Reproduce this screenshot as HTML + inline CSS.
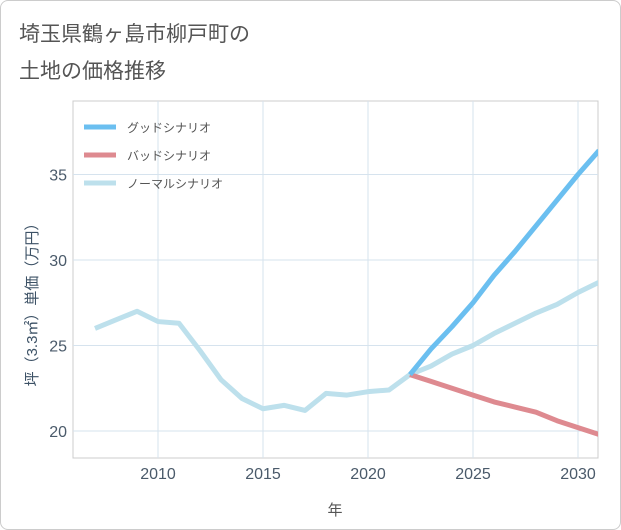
<!DOCTYPE html>
<html><head><meta charset="utf-8"><style>
body{margin:0;background:#fff;font-family:"Liberation Sans","Noto Sans CJK JP",sans-serif;}
#wrap{position:relative;width:619px;height:528px;border:1px solid #ccc;border-radius:8px;overflow:hidden;}
</style></head><body>
<div id="wrap">
<svg id="chart" width="621" height="530"></svg>
</div>
<script>
const years=[2007,2008,2009,2010,2011,2012,2013,2014,2015,2016,2017,2018,2019,2020,2021,2022,2023,2024,2025,2026,2027,2028,2029,2030,2031];
const normal=[26.0,26.5,27.0,26.4,26.3,24.7,23.0,21.9,21.3,21.5,21.2,22.2,22.1,22.3,22.4,23.3,23.8,24.5,25.0,25.7,26.3,26.9,27.4,28.1,28.7];
const fYears=[2022,2023,2024,2025,2026,2027,2028,2029,2030,2031];
const good=[23.3,24.8,26.1,27.5,29.1,30.5,32.0,33.5,35.0,36.4];
const bad=[23.3,22.9,22.5,22.1,21.7,21.4,21.1,20.6,20.2,19.8];
const xTicks=[2010,2015,2020,2025,2030];
const yTicks=[20,25,30,35];
const NS="http://www.w3.org/2000/svg";
const svg=document.getElementById('chart');
const L=72,R=597,T=100,B=457;
const x=v=>157+(v-2010)*21;
const y=v=>430-(v-20)*17.1;
function mk(tag,attrs,parent){const e=document.createElementNS(NS,tag);for(const k in attrs)e.setAttribute(k,attrs[k]);(parent||svg).appendChild(e);return e;}
const title=mk('text',{x:18,y:40,'font-size':21,fill:'#555'});


title.textContent='埼玉県鶴ヶ島市柳戸町の';
const t2=mk('text',{x:18,y:77,'font-size':21,fill:'#555'});


t2.textContent='土地の価格推移';
const bg=mk('rect',{x:L,y:T,width:R-L,height:B-T,fill:'#fff',stroke:'#ccc'});


xTicks.forEach(v=>{
 const g=mk('line',{x1:x(v),x2:x(v),y1:T,y2:B,stroke:'#d6e3ee'});
 
 
 const t=mk('text',{x:x(v),y:478,'font-size':16,fill:'#4a5a6a','text-anchor':'middle'});
 
 
 t.textContent=v;
});
yTicks.forEach(v=>{
 const g=mk('line',{x1:L,x2:R,y1:y(v),y2:y(v),stroke:'#d6e3ee'});
 
 
 const t=mk('text',{x:66,y:y(v)+6,'font-size':16,fill:'#4a5a6a','text-anchor':'end'});
 
 
 t.textContent=v;
});
const xt=mk('text',{x:334,y:514,'font-size':15,fill:'#555','text-anchor':'middle'});


xt.textContent='年';
const yt=mk('text',{x:0,y:0,'font-size':15,fill:'#3d5266','text-anchor':'middle',transform:'translate(36,300) rotate(-90)'});


yt.textContent='坪（3.3㎡）単価（万円）';
const clip=mk('clipPath',{id:'c'});
mk('rect',{x:L,y:T,width:R-L,height:B-T},clip);
function line(xs,vs,color,name){
 const p=mk('path',{d:xs.map((v,i)=>(i?'L':'M')+x(v)+','+y(vs[i])).join(''),fill:'none',stroke:color,'stroke-width':5,'stroke-linejoin':'round','clip-path':'url(#c)'});
 
 
}
line(years,normal,'#bde0ec','normal-scenario-line');
line(fYears,bad,'#de8a90','bad-scenario-line');
line(fYears,good,'#6bbff0','good-scenario-line');
[['グッドシナリオ','#6bbff0'],['バッドシナリオ','#de8a90'],['ノーマルシナリオ','#bde0ec']].forEach((d,i)=>{
 const yy=126+i*28;
 const l=mk('line',{x1:83,x2:115,y1:yy,y2:yy,stroke:d[1],'stroke-width':5});
 
 
 const t=mk('text',{x:126,y:yy+5,'font-size':12,fill:'#555'});
 
 
 t.textContent=d[0];
});
</script>
</body></html>
